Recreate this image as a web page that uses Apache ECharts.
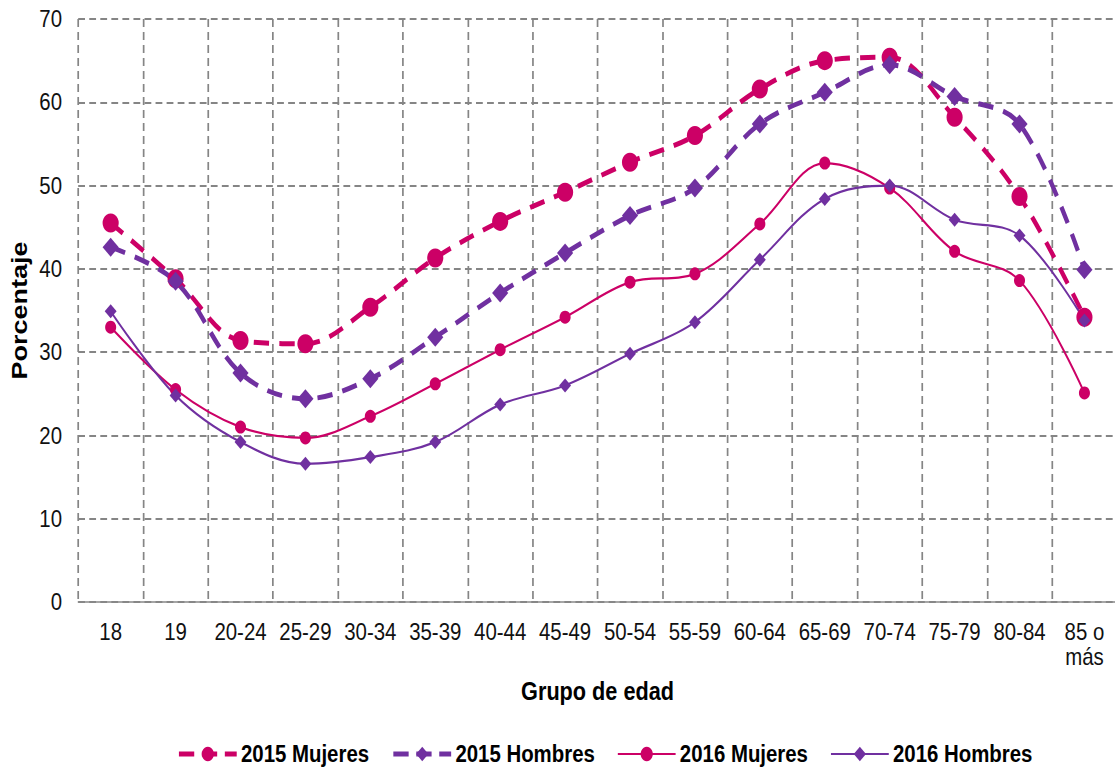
<!DOCTYPE html>
<html>
<head>
<meta charset="utf-8">
<script src="https://cdn.jsdelivr.net/npm/echarts@6/dist/echarts.min.js"></script>
<style>
html,body{margin:0;padding:0;background:#fff;overflow:hidden}
#wrap{width:1115px;height:773px;overflow:hidden;position:relative}
#c{width:1312px;height:773px;transform:scaleX(0.85);transform-origin:0 0;position:absolute;left:0;top:0}
</style>
</head>
<body>
<div id="wrap"><div id="c"></div></div>
<script>
const categories = ['18','19','20-24','25-29','30-34','35-39','40-44','45-49','50-54','55-59','60-64','65-69','70-74','75-79','80-84','85 o\nmás'];
const mujeres2015 = [45.5,38.8,31.4,31.0,35.4,41.3,45.7,49.2,52.8,56.0,61.6,65.0,65.4,58.2,48.7,34.2];
const hombres2015 = [42.6,38.5,27.5,24.4,26.8,31.8,37.1,41.9,46.4,49.7,57.4,61.2,64.5,60.7,57.4,39.9];
const mujeres2016 = [33.0,25.5,21.0,19.7,22.3,26.2,30.3,34.2,38.4,39.4,45.4,52.7,49.7,42.1,38.6,25.1];
const hombres2016 = [34.9,24.8,19.2,16.6,17.4,19.2,23.7,26.0,29.8,33.6,41.1,48.4,50.0,45.9,44.0,33.8];
const yTicks = [0,10,20,30,40,50,60,70];

const PINK = '#CC0066', PURPLE = '#7030A0';
const FONT = 'Liberation Sans, Arial, sans-serif';
const chart = echarts.init(document.getElementById('c'), null, {renderer: 'svg'});
chart.setOption({
  animation: false,
  textStyle: {fontFamily: FONT},
  grid: {left: 92, width: 1222, top: 19, bottom: 171, outerBoundsMode: 'none', containLabel: false},
  legend: {
    left: 208, top: 742, padding: 0, itemWidth: 68, itemHeight: 18, itemGap: 26,
    textStyle: {fontFamily: FONT, fontWeight: 'bold', fontSize: 24, color: '#000'},
    data: [
      {name: '2015 Mujeres', lineStyle: {type: [18, 9], width: 5}},
      {name: '2015 Hombres', lineStyle: {type: [18, 9], width: 5}},
      {name: '2016 Mujeres'},
      {name: '2016 Hombres'}
    ]
  },
  xAxis: {
    type: 'category', data: categories, boundaryGap: true,
    name: 'Grupo de edad', nameLocation: 'middle', nameGap: 76,
    nameTextStyle: {fontWeight: 'bold', fontSize: 25.5, color: '#000'},
    axisLine: {lineStyle: {color: '#888', width: 1.5}},
    axisTick: {show: false},
    axisLabel: {fontSize: 24, color: '#111', margin: 17, lineHeight: 25, interval: 0},
    splitLine: {show: true, interval: 0, lineStyle: {color: '#858585', type: [8, 5], width: 2}}
  },
  yAxis: {
    type: 'value', min: 0, max: 70, interval: 10,
    name: 'Porcentaje', nameLocation: 'middle', nameGap: 57,
    nameTextStyle: {fontWeight: 'bold', fontSize: 27, color: '#000'},
    axisLine: {show: false},
    axisTick: {show: false},
    axisLabel: {fontSize: 24, color: '#111', margin: 19, formatter: v => yTicks.includes(v) ? String(v) : ''},
    splitLine: {show: true, lineStyle: {color: '#858585', type: [8, 5], width: 2}}
  },
  series: [
    {name: '2015 Mujeres', type: 'line', data: mujeres2015, smooth: 0.35, symbol: 'circle', symbolSize: 19,
     lineStyle: {color: PINK, width: 5, type: [18, 12]}, itemStyle: {color: PINK}},
    {name: '2015 Hombres', type: 'line', data: hombres2015, smooth: 0.35, symbol: 'diamond', symbolSize: 19,
     lineStyle: {color: PURPLE, width: 5, type: [18, 12]}, itemStyle: {color: PURPLE}},
    {name: '2016 Mujeres', type: 'line', data: mujeres2016, smooth: 0.35, symbol: 'circle', symbolSize: 13,
     lineStyle: {color: PINK, width: 2.2}, itemStyle: {color: PINK}},
    {name: '2016 Hombres', type: 'line', data: hombres2016, smooth: 0.35, symbol: 'diamond', symbolSize: 14,
     lineStyle: {color: PURPLE, width: 2.2}, itemStyle: {color: PURPLE}}
  ]
});
</script>
</body>
</html>
